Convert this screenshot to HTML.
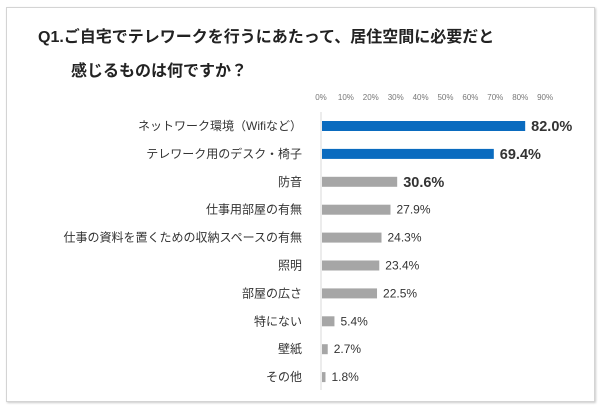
<!DOCTYPE html>
<html><head><meta charset="utf-8"><style>
body{margin:0;background:#fff;width:600px;height:409px;overflow:hidden;font-family:"Liberation Sans","Noto Sans CJK JP",sans-serif}
#frame{position:absolute;left:6px;top:7px;width:587px;height:393px;border:1px solid #d4d4d4;box-shadow:1px 1px 2px #ccc}
.t{position:absolute;font-weight:bold;font-size:16px;color:#222;white-space:nowrap}
</style></head><body>
<div id="frame"></div>
<div class="t" style="left:38px;top:23px">Q1.ご自宅でテレワークを行うにあたって、居住空間に必要だと</div>
<div class="t" style="left:71px;top:57px">感じるものは何ですか？</div>
<svg id="c" width="600" height="409" style="position:absolute;left:0;top:0"></svg>
<script>
const categories=["ネットワーク環境（Wifiなど）","テレワーク用のデスク・椅子","防音","仕事用部屋の有無","仕事の資料を置くための収納スペースの有無","照明","部屋の広さ","特にない","壁紙","その他"];
const values=[82.0,69.4,30.6,27.9,24.3,23.4,22.5,5.4,2.7,1.8];
const highlight=[true,true,false,false,false,false,false,false,false,false];
const ticks=[0,10,20,30,40,50,60,70,80,90];
const svg=document.getElementById('c');const NS="http://www.w3.org/2000/svg";
const x0=321,pxPer=2.49,y0=126,step=27.9,bh=10;
const X=v=>x0+v*pxPer, Y=i=>y0+i*step;
function mk(t,a){const e=document.createElementNS(NS,t);for(const k in a)e.setAttribute(k,a[k]);svg.appendChild(e);return e;}
ticks.forEach(t=>{const e=mk('text',{x:X(t),y:100,'text-anchor':'middle','font-size':8,fill:'#777'});e.textContent=t+'%';

});
const ax=mk('line',{x1:x0,x2:x0,y1:112,y2:390,stroke:'#d9d9d9','stroke-width':1});


categories.forEach((c,i)=>{
const l=mk('text',{x:302,y:Y(i)+4,'text-anchor':'end','font-size':12,fill:'#333'});l.textContent=c;


const r=mk('rect',{x:x0+1,y:Y(i)-bh/2,width:X(values[i])-x0-1,height:bh,fill:highlight[i]?'#0a6bbf':'#a6a6a6'});


const big=highlight[i]||i==2;
const v=mk('text',{x:X(values[i])+6,y:Y(i)+(big?5:4),'font-size':big?14.5:12,'font-weight':big?'bold':'normal',fill:'#333'});
v.textContent=values[i].toFixed(1)+'%';


});
</script>
</body></html>
